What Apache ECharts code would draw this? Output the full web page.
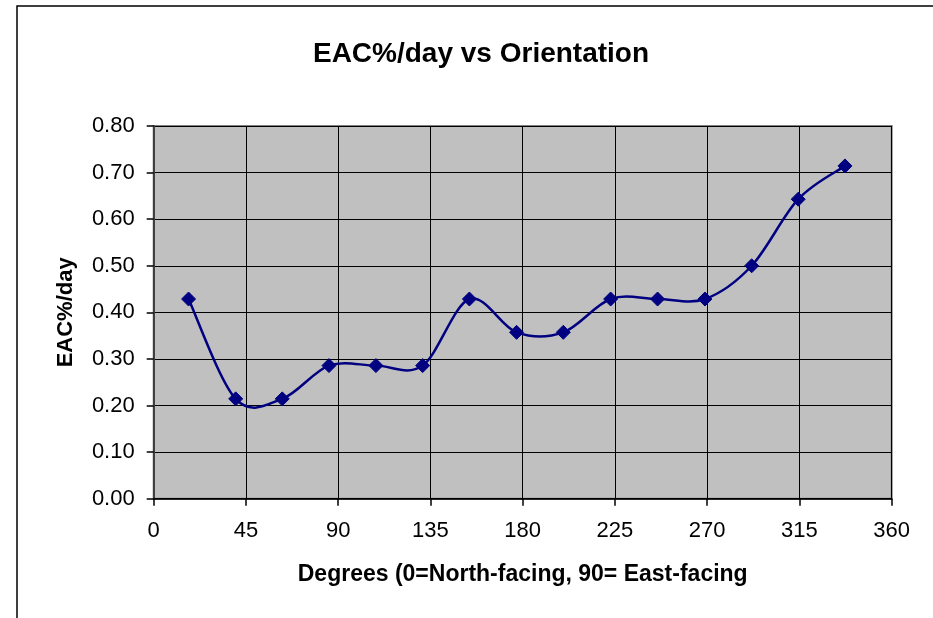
<!DOCTYPE html>
<html>
<head>
<meta charset="utf-8">
<script src="https://cdn.jsdelivr.net/npm/echarts@6/dist/echarts.min.js"></script>
<style>
  html, body { margin: 0; padding: 0; background: #fff; }
  #chart { width: 933px; height: 618px; }
</style>
</head>
<body>
<div id="chart"></div>
<script>
// Orientation of the surface, in degrees (0 = North-facing, 90 = East-facing)
const degrees = [17, 40, 62.7, 85.5, 108.4, 131.2, 154, 177, 199.8, 222.9, 245.8, 268.9, 291.7, 314.4, 337.2];
// Measured EAC%/day at each orientation
const eacPerDay = [0.4286, 0.2143, 0.2143, 0.2857, 0.2857, 0.2857, 0.4286, 0.3571, 0.3571, 0.4286, 0.4286, 0.4286, 0.5000, 0.6429, 0.7143];

const chartTitle = 'EAC%/day vs Orientation';
const xAxisTitle = 'Degrees (0=North-facing, 90= East-facing';
const yAxisTitle = 'EAC%/day';

const points = degrees.map((d, i) => [d, eacPerDay[i]]);
const navy = '#000080';
const font = '"Liberation Sans", Arial, sans-serif';

// Smoothed connector: a cubic Bezier per segment with Catmull-Rom style
// control points (tangent = (next - prev) / 6), computed in pixel space.
function renderSegment(params, api) {
  const i = params.dataIndex;
  const n = points.length;
  if (i >= n - 1) return null;
  const p = k => api.coord(points[Math.max(0, Math.min(n - 1, k))]);
  const p0 = p(i - 1), p1 = p(i), p2 = p(i + 1), p3 = p(i + 2);
  const c1 = [p1[0] + (p2[0] - p0[0]) / 6, p1[1] + (p2[1] - p0[1]) / 6];
  const c2 = [p2[0] - (p3[0] - p1[0]) / 6, p2[1] - (p3[1] - p1[1]) / 6];
  return {
    type: 'path',
    shape: {
      pathData: 'M' + p1[0] + ' ' + p1[1] +
        ' C' + c1[0] + ' ' + c1[1] + ' ' + c2[0] + ' ' + c2[1] + ' ' + p2[0] + ' ' + p2[1]
    },
    style: { fill: 'none', stroke: navy, lineWidth: 2.5, lineCap: 'round' }
  };
}

const chart = echarts.init(document.getElementById('chart'), null, { renderer: 'canvas' });

chart.setOption({
  backgroundColor: '#ffffff',
  animation: false,
  textStyle: { fontFamily: font },
  title: {
    text: chartTitle,
    left: 476,
    top: 35,
    textAlign: 'center',
    textStyle: { fontFamily: font, fontSize: 28, fontWeight: 'bold', color: '#000' }
  },
  graphic: [{
    type: 'rect',
    silent: true,
    shape: { x: 17, y: 6, width: 1000, height: 1000 },
    style: { fill: 'none', stroke: '#000', lineWidth: 1.5 }
  }],
  grid: {
    left: 153.7,
    right: 41.3,
    top: 126,
    bottom: 119.3,
    show: true,
    backgroundColor: '#c0c0c0',
    borderColor: '#808080',
    borderWidth: 2
  },
  xAxis: {
    type: 'value',
    min: 0,
    max: 360,
    interval: 45,
    name: xAxisTitle,
    nameLocation: 'middle',
    nameGap: 64,
    nameTextStyle: { fontFamily: font, fontSize: 23, fontWeight: 'bold', color: '#000' },
    axisLine: { show: true, onZero: false, lineStyle: { color: '#000', width: 1.5 } },
    axisTick: { show: true, inside: false, length: 7, lineStyle: { color: '#000', width: 1.5 } },
    axisLabel: { fontFamily: font, fontSize: 22, color: '#000', margin: 21 },
    splitLine: { show: true, lineStyle: { color: '#000', width: 1 } }
  },
  yAxis: {
    type: 'value',
    min: 0,
    max: 0.8,
    interval: 0.1,
    name: yAxisTitle,
    nameLocation: 'middle',
    nameRotate: 90,
    nameGap: 77,
    nameTextStyle: { fontFamily: font, fontSize: 22, fontWeight: 'bold', color: '#000' },
    axisLine: { show: true, lineStyle: { color: '#404040', width: 2 } },
    axisTick: { show: true, inside: false, length: 7, lineStyle: { color: '#000', width: 1.5 } },
    axisLabel: {
      fontFamily: font, fontSize: 22, color: '#000', margin: 19,
      formatter: v => v.toFixed(2)
    },
    splitLine: { show: true, lineStyle: { color: '#000', width: 1 } }
  },
  series: [{
    type: 'custom',
    data: points,
    renderItem: renderSegment,
    silent: true,
    z: 2
  }, {
    type: 'scatter',
    data: points,
    symbol: 'diamond',
    symbolSize: 14,
    itemStyle: { color: navy, borderColor: navy, opacity: 1 },
    z: 3
  }]
});
</script>
</body>
</html>
